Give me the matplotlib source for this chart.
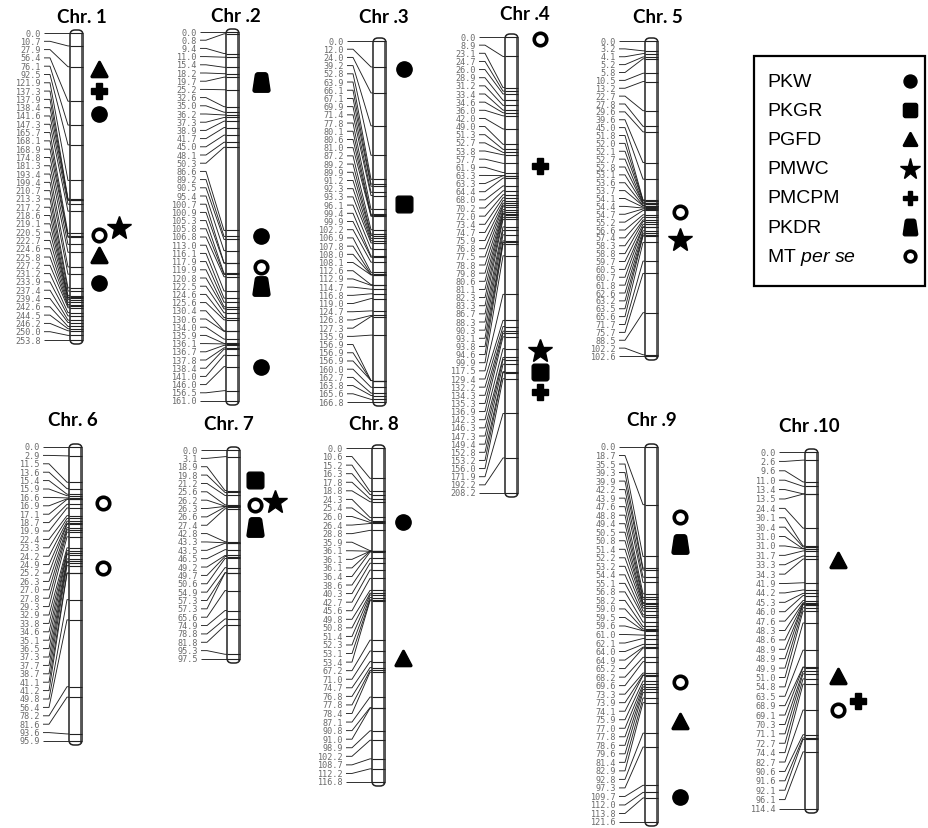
import numpy as np
import matplotlib
matplotlib.use("Agg")
import matplotlib.pyplot as plt
from matplotlib.path import Path
from matplotlib.patches import FancyBboxPatch, Rectangle
from matplotlib.collections import LineCollection

plt.rcParams['mathtext.fontset'] = 'custom'
plt.rcParams['mathtext.rm'] = 'Liberation Sans'
plt.rcParams['mathtext.it'] = 'Liberation Sans:italic'

# =============================================================================
# DATOS: posiciones de marcadores (cM) por cromosoma
# =============================================================================
chr1_pos = [0.0, 10.7, 27.9, 56.4, 76.1, 92.5, 121.9, 137.3, 137.9, 138.4, 141.6,
            147.3, 165.7, 168.1, 168.9, 174.8, 181.3, 193.4, 199.4, 210.7, 213.3,
            217.2, 218.6, 219.1, 220.5, 222.7, 224.6, 225.8, 227.2, 231.2, 233.9,
            237.4, 239.4, 242.6, 244.5, 246.2, 250.0, 253.8]
chr2_pos = [0.0, 0.8, 9.4, 11.0, 15.4, 18.2, 19.7, 25.2, 32.6, 35.0, 36.2, 37.3,
            38.9, 41.7, 45.0, 48.1, 50.3, 86.6, 89.2, 90.5, 95.4, 100.7, 100.9,
            105.3, 105.8, 106.8, 113.0, 116.1, 117.9, 119.9, 120.8, 122.5, 124.6,
            125.6, 130.4, 130.6, 134.0, 135.9, 136.1, 136.7, 137.8, 138.4, 141.0,
            146.0, 156.5, 161.0]
chr3_pos = [0.0, 12.0, 24.0, 39.2, 52.8, 63.9, 66.1, 67.1, 69.9, 71.4, 77.8, 80.1,
            80.6, 81.0, 87.2, 89.2, 89.9, 91.2, 92.3, 93.3, 96.1, 99.4, 99.9, 102.2,
            106.9, 107.8, 108.0, 108.1, 112.6, 112.9, 114.7, 116.8, 119.0, 124.7,
            126.8, 127.3, 135.9, 156.9, 156.9, 156.9, 160.0, 162.7, 163.8, 165.6,
            166.8]
chr4_pos = [0.0, 8.9, 23.1, 24.7, 26.0, 28.9, 31.2, 33.4, 34.6, 36.0, 42.0, 49.0,
            51.3, 52.7, 53.8, 57.7, 61.9, 63.3, 63.3, 64.4, 68.0, 70.2, 72.0, 73.4,
            74.7, 75.9, 76.8, 77.5, 78.8, 79.8, 80.6, 81.1, 82.3, 83.3, 86.7, 88.3,
            90.3, 93.1, 93.8, 94.6, 99.9, 117.5, 129.4, 132.2, 134.3, 135.3, 136.9,
            142.3, 146.3, 147.3, 149.4, 152.8, 153.2, 156.0, 171.9, 192.2, 208.2]
chr5_pos = [0.0, 3.2, 4.1, 5.2, 5.8, 10.5, 13.2, 22.7, 27.8, 29.6, 39.6, 45.0, 51.8,
            52.0, 52.1, 52.7, 52.8, 53.1, 53.6, 53.7, 54.1, 54.4, 54.7, 55.2, 56.6,
            57.4, 58.3, 58.8, 59.7, 60.5, 60.7, 61.8, 62.6, 63.2, 63.5, 65.6, 71.7,
            75.7, 88.5, 102.2, 102.6]
chr6_pos = [0.0, 2.9, 11.5, 13.6, 15.4, 15.9, 16.6, 16.9, 17.1, 18.7, 19.9, 22.4,
            23.3, 24.2, 24.9, 25.2, 26.3, 27.0, 27.8, 29.3, 32.9, 33.8, 34.6, 35.1,
            36.5, 37.3, 37.7, 38.7, 41.1, 41.2, 49.8, 56.4, 78.2, 81.6, 93.6, 95.9]
chr7_pos = [0.0, 3.1, 18.9, 19.8, 21.2, 25.6, 26.2, 26.3, 26.6, 27.4, 42.8, 43.3,
            43.5, 46.5, 49.2, 49.7, 50.6, 54.9, 57.3, 57.3, 65.6, 74.9, 78.8, 81.8,
            95.3, 97.5]
chr8_pos = [0.0, 10.6, 15.2, 16.3, 17.8, 18.8, 24.3, 25.4, 26.0, 26.4, 28.8, 35.9,
            36.1, 36.1, 36.1, 36.4, 38.6, 40.3, 42.7, 45.6, 49.8, 50.8, 51.4, 52.3,
            53.1, 53.4, 67.2, 71.0, 74.7, 76.8, 77.8, 78.4, 87.1, 90.8, 91.0, 98.9,
            102.2, 108.7, 112.2, 116.8]
chr9_pos = [0.0, 18.7, 35.5, 39.3, 39.9, 42.2, 43.9, 47.6, 48.8, 49.4, 50.5, 50.8,
            51.4, 52.2, 53.2, 54.4, 55.1, 56.8, 58.2, 59.0, 59.5, 59.6, 61.0, 62.1,
            64.0, 64.9, 65.2, 68.2, 69.6, 73.3, 73.9, 74.1, 75.9, 77.0, 77.8, 78.6,
            79.6, 81.4, 82.9, 92.8, 97.3, 109.7, 112.0, 113.8, 121.6]
chr10_pos = [0.0, 2.6, 9.6, 11.0, 13.4, 13.5, 24.4, 30.1, 30.4, 31.0, 31.0, 31.7,
             33.3, 34.3, 41.9, 44.2, 45.3, 46.0, 47.6, 48.3, 48.6, 48.9, 48.9, 49.9,
             51.0, 54.8, 63.5, 68.9, 69.1, 70.3, 71.1, 72.7, 74.4, 82.7, 90.6, 91.6,
             92.1, 96.1, 114.4]

chr_names = ["Chr. 1", "Chr .2", "Chr .3", "Chr .4", "Chr. 5",
             "Chr. 6", "Chr. 7", "Chr. 8", "Chr .9", "Chr .10"]
chr_positions = [chr1_pos, chr2_pos, chr3_pos, chr4_pos, chr5_pos,
                 chr6_pos, chr7_pos, chr8_pos, chr9_pos, chr10_pos]

# QTL detectados: cromosoma (indice), rasgo, posicion cM, columna
qtl_chr = [0, 0, 0, 0, 0, 0, 0,
           1, 1, 1, 1, 1,
           2, 2,
           3, 3, 3, 3, 3,
           4, 4,
           5, 5,
           6, 6, 6, 6,
           7, 7,
           8, 8, 8, 8, 8,
           9, 9, 9, 9]
qtl_trait = ["PGFD", "PMCPM", "PKW", "MT", "PMWC", "PGFD", "PKW",
             "PKDR", "PKW", "MT", "PKDR", "PKW",
             "PKW", "PKGR",
             "MT", "PMCPM", "PMWC", "PKGR", "PMCPM",
             "MT", "PMWC",
             "MT", "MT",
             "PKGR", "MT", "PMWC", "PKDR",
             "PKW", "PGFD",
             "MT", "PKDR", "MT", "PGFD", "PKW",
             "PGFD", "PGFD", "MT", "PMCPM"]
qtl_cm = [29.8, 48.0, 67.0, 167.0, 161.0, 183.5, 207.0,
          21.8, 89.0, 102.5, 111.0, 146.0,
          12.9, 75.3,
          1.0, 58.9, 143.4, 153.0, 162.0,
          55.7, 64.8,
          18.3, 39.5,
          14.0, 25.7, 24.3, 35.9,
          25.9, 73.4,
          22.7, 31.5, 76.2, 88.8, 113.5,
          34.6, 71.8, 82.7, 79.8]
qtl_col = [0, 0, 0, 0, 1, 0, 0,
           0, 0, 0, 0, 0,
           0, 0,
           0, 0, 0, 0, 0,
           0, 0,
           0, 0,
           0, 0, 1, 0,
           0, 0,
           0, 0, 0, 0, 0,
           0, 0, 0, 1]

legend_traits = ["PKW", "PKGR", "PGFD", "PMWC", "PMCPM", "PKDR", "MT"]
legend_labels = ["PKW", "PKGR", "PGFD", "PMWC", "PMCPM", "PKDR", r"MT $\it{per\ se}$"]

# =============================================================================
# LAYOUT (pixeles): borde izq. barra, y superior, y inferior, titulo, separacion QTL
# =============================================================================
bar_left = [70, 226, 373, 505, 645, 69, 227, 372, 645, 805]
bar_top = [34, 33, 42, 38, 42, 448, 451, 449, 448, 453]
bar_bot = [341, 402, 403, 494, 357, 742, 660, 783, 823, 810]
title_x = [82, 236, 384, 525, 658, 73, 229, 374, 652, 809]
title_y = [17, 16, 17, 14, 17, 421, 424, 424, 420, 426]
qtl_dx = [16, 22, 18, 22, 22, 21, 15, 18, 22, 20]
BAR_W = 13


def rounded_path(corners, r=0.12):
    """Poligono con esquinas redondeadas (para marcadores)."""
    verts, codes = [], []
    n = len(corners)
    for i in range(n):
        p0 = np.array(corners[i - 1], float)
        p1 = np.array(corners[i], float)
        p2 = np.array(corners[(i + 1) % n], float)
        a = p1 + (p0 - p1) / np.linalg.norm(p0 - p1) * r
        b = p1 + (p2 - p1) / np.linalg.norm(p2 - p1) * r
        verts.append(a)
        codes.append(Path.MOVETO if i == 0 else Path.LINETO)
        verts += [p1, b]
        codes += [Path.CURVE3, Path.CURVE3]
    verts.append(verts[0])
    codes.append(Path.CLOSEPOLY)
    return Path(verts, codes)


SQUARE = rounded_path([(-0.5, 0.5), (0.5, 0.5), (0.5, -0.5), (-0.5, -0.5)], 0.15)
TRI = rounded_path([(0, 0.5), (0.5, -0.45), (-0.5, -0.45)], 0.1)
TRAP = rounded_path([(-0.3, 0.5), (0.3, 0.5), (0.45, -0.5), (-0.45, -0.5)], 0.12)

STYLES = {
    "PKW": dict(marker="o", ms=11, mfc="black", mec="black"),
    "PKGR": dict(marker=SQUARE, ms=12, mfc="black", mec="black"),
    "PGFD": dict(marker=TRI, ms=13, mfc="black", mec="black"),
    "PMWC": dict(marker="*", ms=18, mfc="black", mec="black"),
    "PMCPM": dict(marker="P", ms=12, mfc="black", mec="black"),
    "PKDR": dict(marker=TRAP, ms=14, mfc="black", mec="black"),
    "MT": dict(marker="o", ms=9, mfc="white", mec="black", mew=2.6),
}

# =============================================================================
# FIGURA
# =============================================================================
fig = plt.figure(figsize=(9.29, 8.29), dpi=100)
ax = fig.add_axes([0, 0, 1, 1])
ax.set_xlim(0, 929)
ax.set_ylim(829, 0)
ax.axis('off')

for k, pos in enumerate(chr_positions):
    pos = np.array(pos)
    top, bot, x0 = bar_top[k], bar_bot[k], bar_left[k]
    scale = (bot - top) / pos.max()
    y_mark = top + pos * scale
    y_lab = np.linspace(top, bot, len(pos))

    # barra del cromosoma
    ax.add_patch(FancyBboxPatch((x0, top - 3), BAR_W, bot - top + 7,
                                boxstyle="round,pad=0,rounding_size=5",
                                fc="white", ec="#222222", lw=1.1, zorder=2))
    ax.plot([x0 + BAR_W - 1.5, x0 + BAR_W - 1.5], [top, bot + 2],
            color="#444444", lw=0.6, zorder=3)
    ticks = [[(x0, y), (x0 + BAR_W, y)] for y in y_mark]
    ax.add_collection(LineCollection(ticks, colors="#222222", lw=0.8, zorder=3))

    # conectores etiqueta -> marcador
    xs = x0 - 26
    conns = [[(xs, yl), (xs + 6, yl), (x0 - 2, ym), (x0, ym)]
             for yl, ym in zip(y_lab, y_mark)]
    ax.add_collection(LineCollection(conns, colors="#222222", lw=0.65, zorder=1))

    for yl, v in zip(y_lab, pos):
        ax.text(xs - 3, yl, f"{v:.1f}", fontsize=6.1, color="#6a6a6a",
                family="DejaVu Sans Mono", ha="right", va="center")

    ax.text(title_x[k], title_y[k], chr_names[k], fontsize=13.5,
            fontweight="bold", family="Lato", ha="center", va="center")

# QTL
for c, t, cm, col in zip(qtl_chr, qtl_trait, qtl_cm, qtl_col):
    scale = (bar_bot[c] - bar_top[c]) / max(chr_positions[c])
    y = bar_top[c] + cm * scale
    x = bar_left[c] + BAR_W + qtl_dx[c] + col * 20
    ax.plot([x], [y], linestyle="none", zorder=5, **STYLES[t])

# leyenda
ax.add_patch(Rectangle((754, 57), 171, 230, fc="white", ec="black", lw=1.6, zorder=4))
for i, (t, lab) in enumerate(zip(legend_traits, legend_labels)):
    y = 82 + i * 29.2
    ax.text(767, y, lab, fontsize=14, family="Liberation Sans",
            ha="left", va="center", zorder=5)
    st = dict(STYLES[t])
    st["ms"] = st["ms"] * 0.85
    ax.plot([910], [y], linestyle="none", zorder=5, **st)

plt.savefig("out.png", dpi=100)
